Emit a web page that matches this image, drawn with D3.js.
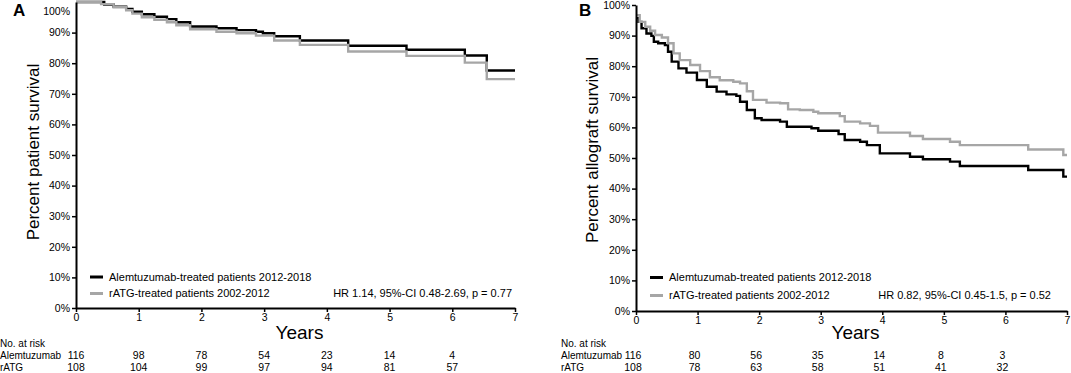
<!DOCTYPE html>
<html><head><meta charset="utf-8">
<script src="https://cdn.jsdelivr.net/npm/d3@7"></script>
<style>
body{margin:0;background:#fff;}
svg text{font-family:"Liberation Sans",Arial,Helvetica,sans-serif;}
</style></head>
<body><svg id="c" width="1071" height="373"></svg>
<script>
// ---- data ----
const yearTicks = [0,1,2,3,4,5,6,7];
const pctTicks = [0,10,20,30,40,50,60,70,80,90,100];
const seriesNames = ["Alemtuzumab-treated patients 2012-2018","rATG-treated patients 2002-2012"];
const riskLabels = ["Alemtuzumab","rATG"];

// Panel A: patient survival (time in years, survival in %)
const aAlemT = [0,0.45,0.6,0.8,0.9,1.05,1.25,1.45,1.6,1.82,2.24,2.56,2.87,2.98,3.16,3.57,4.34,5.27,6.20,6.55,7.0];
const aAlemS = [100,99.2,98.5,97.7,96.8,96.0,95.2,94.4,93.4,92.0,91.4,90.8,90.3,89.8,88.8,87.4,85.7,84.4,82.5,77.6,77.6];
const aRatgT = [0,0.4,0.6,0.8,0.9,1.05,1.25,1.45,1.6,1.82,2.24,2.56,2.87,3.16,3.57,4.34,5.27,6.20,6.55,7.0];
const aRatgS = [100,99.3,98.3,97.3,96.2,95.0,94.2,93.4,92.4,91.1,90.3,89.8,89.0,87.4,86.0,83.8,82.4,80.2,74.8,74.8];
const aRiskAlem = [116,98,78,54,23,14,4];
const aRiskRatg = [108,104,99,97,94,81,57];
const aStat = "HR 1.14, 95%-CI 0.48-2.69, p = 0.77";

// Panel B: allograft survival
const bAlemT = [0,0.04,0.09,0.17,0.25,0.29,0.36,0.47,0.52,0.58,0.69,0.82,0.99,1.15,1.31,1.47,1.63,1.69,1.80,1.93,2.04,2.34,2.45,2.85,2.96,3.29,3.39,3.64,3.75,3.96,4.45,4.66,5.10,5.26,6.37,6.94,7.0];
const bAlemS = [95.7,94.5,92.4,90.7,89.9,88.0,87.5,86.9,84.7,81.5,79.3,77.9,75.5,73.3,71.7,70.8,70.3,68.4,65.7,63.0,62.4,61.9,60.2,59.7,58.9,57.8,55.9,55.3,54.2,51.5,50.4,49.6,48.8,47.4,46.1,43.9,43.9];
const bRatgT = [0,0.06,0.15,0.23,0.31,0.42,0.52,0.61,0.71,0.88,1.04,1.2,1.36,1.58,1.69,1.80,1.90,2.12,2.34,2.47,2.66,2.88,2.96,3.31,3.39,3.64,3.80,3.93,4.45,4.66,5.10,5.26,6.37,6.94,7.0];
const bRatgS = [96.7,94.5,92.9,91.6,90.2,89.4,87.5,84.2,82.0,80.4,78.4,76.4,75.4,74.9,74.4,71.8,69.0,68.1,67.9,65.9,65.7,65.1,64.6,63.7,61.9,61.3,60.5,58.3,57.2,56.2,55.3,54.2,52.8,51.0,51.0];
const bRiskAlem = [116,80,56,35,14,8,3];
const bRiskRatg = [108,78,63,58,51,41,32];
const bStat = "HR 0.82, 95%-CI 0.45-1.5, p = 0.52";

const colors = ["#000000","#a6a6a6"];
const svg = d3.select("#c");

function panel(o){
  const g = svg.append("g");
  const x = d3.scaleLinear().domain([0,7]).range([o.x0,o.x1]);
  const y = d3.scaleLinear().domain([0,100]).range([o.y0,o.y1]);
  const line = d3.line().x(d=>x(d[0])).y(d=>y(d[1])).curve(d3.curveStepAfter);
  o.series.forEach((s,i)=>{
    const pts = s.t.map((t,k)=>[t,s.s[k]]);
    g.append("path").attr("d",line(pts)).attr("fill","none")
      .attr("stroke",colors[i]).attr("stroke-width",2.4).attr("stroke-linejoin","miter");
  });
  const ya = g.append("g").attr("transform",`translate(${o.x0},0)`)
    .call(d3.axisLeft(y).tickValues(pctTicks).tickFormat(d=>d+"%").tickSize(4).tickSizeOuter(0).tickPadding(2));
  const xa = g.append("g").attr("transform",`translate(0,${o.y0})`)
    .call(d3.axisBottom(x).tickValues(yearTicks).tickFormat(d3.format("d")).tickSize(4).tickSizeOuter(0).tickPadding(2));
  [ya,xa].forEach(a=>{
    a.select(".domain").attr("stroke","#000").attr("stroke-width",2);
    a.selectAll(".tick line").attr("stroke","#000").attr("stroke-width",1.5);
    a.selectAll("text").attr("font-size",10.5).attr("fill","#000")
      .attr("font-family","'Liberation Sans',Arial,sans-serif");
  });
  if(o.topShift){
    ya.selectAll(".tick").filter(d=>d===100).select("text").attr("dy",(0.32+o.topShift/10.5)+"em");
    ya.selectAll(".tick").filter(d=>d===100).select("line").remove();
  }
  g.append("text").attr("x",o.letterX).attr("y",16).attr("font-size",17).attr("font-weight","bold").text(o.letter);
  g.append("text").attr("transform",`translate(${o.titleX},${o.titleY}) rotate(-90)`)
    .attr("text-anchor","middle").attr("font-size",17).text(o.ytitle);
  g.append("text").attr("x",(o.x0+o.x1)/2+4).attr("y",339).attr("text-anchor","middle")
    .attr("font-size",19).text("Years");
  seriesNames.forEach((n,i)=>{
    const ly = o.legY[i];
    g.append("line").attr("x1",o.legX).attr("x2",o.legX+13).attr("y1",ly-3.5).attr("y2",ly-3.5)
      .attr("stroke",colors[i]).attr("stroke-width",3);
    g.append("text").attr("x",o.legX+19).attr("y",ly).attr("font-size",11).text(n);
  });
  g.append("text").attr("x",o.statX).attr("y",o.legY[1]).attr("text-anchor","end")
    .attr("font-size",11).text(o.stat);
  g.append("text").attr("x",o.riskX).attr("y",346.5).attr("font-size",10).text("No. at risk");
  [o.riskAlem,o.riskRatg].forEach((arr,i)=>{
    const ry = 358.5 + i*12;
    g.append("text").attr("x",o.riskX).attr("y",ry).attr("font-size",10).text(riskLabels[i]);
    g.selectAll(null).data(arr).enter().append("text")
      .attr("x",(d,k)=>x(yearTicks[k])+o.riskShift).attr("y",ry).attr("text-anchor","middle")
      .attr("font-size",10.5).text(d=>d);
  });
}

panel({x0:76,x1:515,y0:308,y1:2,letter:"A",letterX:13,titleX:39,titleY:152,
  ytitle:"Percent patient survival",topShift:9,
  series:[{t:aAlemT,s:aAlemS},{t:aRatgT,s:aRatgS}],
  legX:90,legY:[280.5,297],statX:512,stat:aStat,riskX:0,riskShift:0,riskAlem:aRiskAlem,riskRatg:aRiskRatg});

panel({x0:636,x1:1067,y0:311,y1:5,letter:"B",letterX:579,titleX:598,titleY:150,
  ytitle:"Percent allograft survival",topShift:0,
  series:[{t:bAlemT,s:bAlemS},{t:bRatgT,s:bRatgS}],
  legX:650,legY:[281,299],statX:1051,stat:bStat,riskX:561,riskShift:-3,riskAlem:bRiskAlem,riskRatg:bRiskRatg});
</script></body></html>
